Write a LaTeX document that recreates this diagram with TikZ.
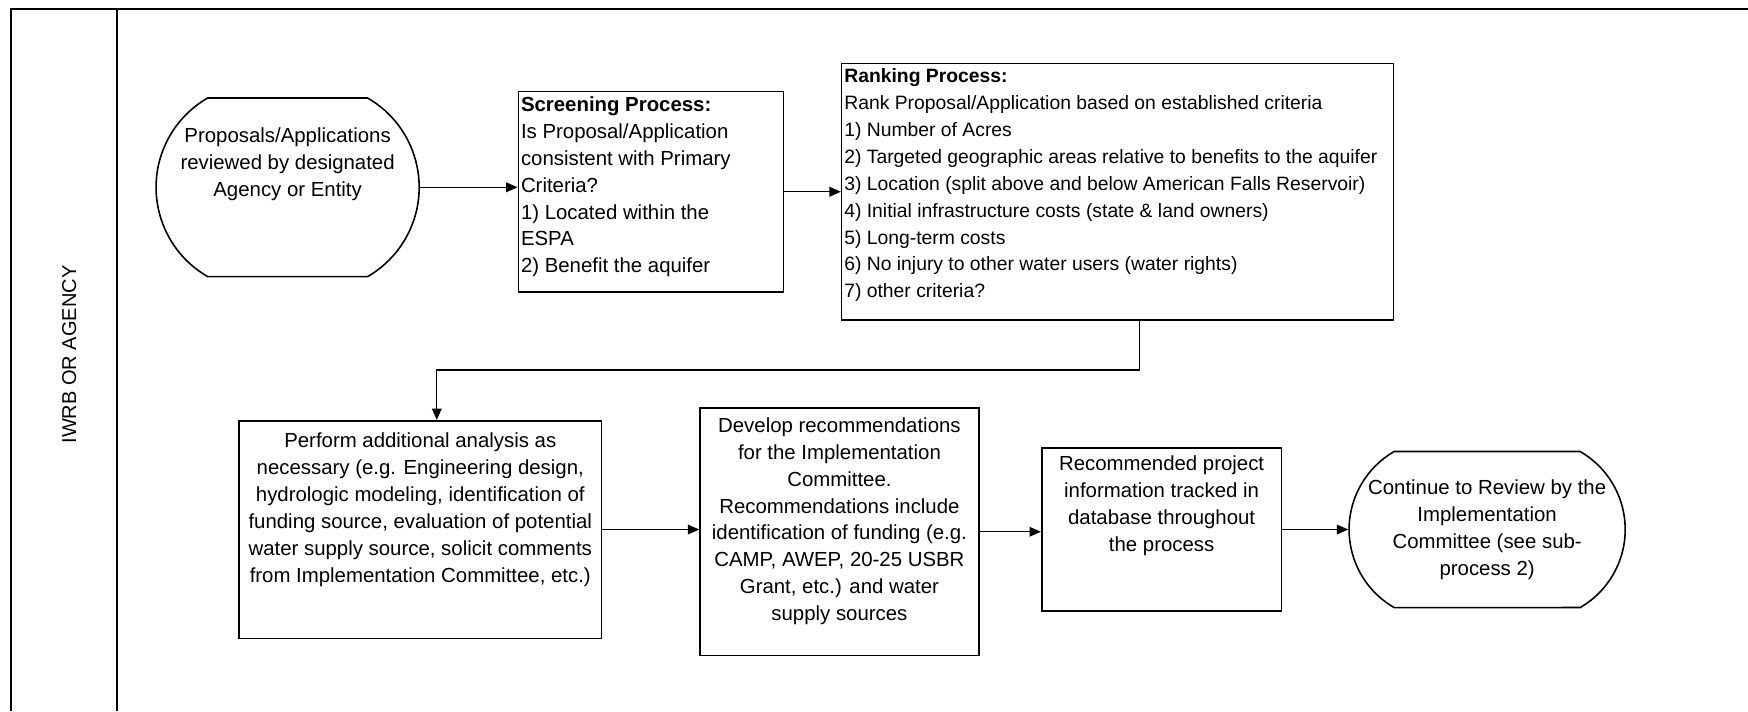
\documentclass[tikz,border=0pt]{standalone}
\usepackage{fontspec}
\setmainfont{Liberation Sans}
\usetikzlibrary{arrows.meta,shapes.misc}

\newcommand{\boxtext}[4]{\parbox[c][#1][#2]{#3}{#4}}

\begin{document}
\begin{tikzpicture}[>={Triangle[length=6.5pt,width=5.5pt]},x=0.0223cm,y=-0.0223cm,
  font=\fontsize{11.6}{15.3}\selectfont]
  \tikzstyle{term}=[rounded rectangle,rounded rectangle arc length=120,draw,line width=0.9pt,inner ysep=0pt]
  \tikzstyle{task}=[rectangle,draw,line width=0.9pt,inner xsep=1.5pt,inner ysep=3pt]
  \tikzstyle{flow}=[->,line width=0.8pt]

\useasboundingbox (0,0) rectangle (1568,638);

% lane
\draw [line width=1.1pt] (10,638) -- (10,8) -- (1568,8);
\draw [line width=1.1pt] (105,8) -- (105,638);
\node [rotate=90,font=\fontsize{11.4}{14}\selectfont] (lane) at (62,318) {IWRB OR AGENCY};

% top row
\node [term,inner xsep=-0.65cm] (start) at (258,168)
  {\boxtext{3.57cm}{t}{4.5cm}{\centering\vspace*{0.6cm}Proposals/Applications\\reviewed by designated\\Agency or Entity}};
\node [task] (screen) at (584,172)
  {\boxtext{3.80cm}{t}{5.2cm}{\raggedright\textbf{Screening Process:}\\Is Proposal/Application\\consistent with Primary\\Criteria?\\1) Located within the\\ESPA\\2) Benefit the aquifer}};
\node [task,font=\fontsize{11}{15.3}\selectfont] (rank) at (1002.5,172)
  {\boxtext{4.92cm}{t}{10.93cm}{\raggedright\textbf{Ranking Process:}\\Rank Proposal/Application based on established criteria\\1) Number of Acres\\2) Targeted geographic areas relative to benefits to the aquifer\\3) Location (split above and below American Falls Reservoir)\\4) Initial infrastructure costs (state \& land owners)\\5) Long-term costs\\6) No injury to other water users (water rights)\\7) other criteria?}};

% bottom row
\node [task] (analysis) at (377,475)
  {\boxtext{4.14cm}{t}{7.15cm}{\centering\vspace*{4pt}Perform additional analysis as\\necessary (e.g. Engineering design,\\hydrologic modeling, identification of\\funding source, evaluation of potential\\water supply source, solicit comments\\from Implementation Committee, etc.)}};
\node [task] (develop) at (753,477)
  {\boxtext{4.74cm}{t}{5.47cm}{\centering\vspace*{2.5pt}Develop recommendations\\for the Implementation\\Committee.\\Recommendations include\\identification of funding (e.g.\\CAMP, AWEP, 20-25 USBR\\Grant, etc.) and water\\supply sources}};
\node [task] (tracked) at (1042,475)
  {\boxtext{3.05cm}{t}{4.69cm}{\centering\vspace*{1.5pt}Recommended project\\information tracked in\\database throughout\\the process}};
\node [term,inner xsep=-0.74cm] (cont) at (1334,475)
  {\boxtext{3.12cm}{c}{5.2cm}{\centering Continue to Review by the\\Implementation\\Committee (see sub-\\process 2)}};

% connectors
\draw [flow] (start.east) -- (start.east -| screen.west);
\draw [flow] (screen.east) -- (screen.east -| rank.west);
\draw [flow] ([xshift=0.435cm]rank.south) -- ++(0,44) -| ([xshift=0.33cm]analysis.north);
\draw [flow] (analysis.east) -- (analysis.east -| develop.west);
\draw [flow] (develop.east) -- (develop.east -| tracked.west);
\draw [flow] (tracked.east) -- (tracked.east -| cont.west);
\end{tikzpicture}
\end{document}
